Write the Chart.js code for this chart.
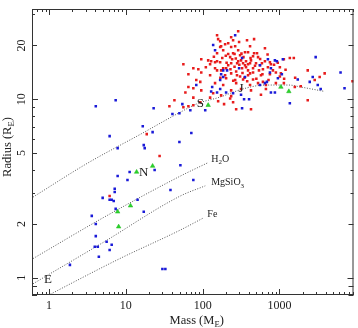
<!DOCTYPE html>
<html>
<head>
<meta charset="utf-8">
<script src="https://cdn.jsdelivr.net/npm/chart.js@4.4.1/dist/chart.umd.min.js"></script>
<style>
  html, body { margin: 0; padding: 0; background: #fff; }
  canvas { display: block; }
</style>
</head>
<body>
<canvas id="mr" width="358" height="328"></canvas>
<script>
// tick labels
const xTickLabels = [1, 10, 100, 1000];
const yTickLabels = [1, 2, 5, 10, 20];

// transiting planets (mass, radius in Earth units)
const redMass = [
  6.15, 42.9, 36.9, 18.7, 27.5, 56.1, 290, 154, 235, 169,
  298, 215, 174, 196, 235, 265, 647, 154, 185, 290,
  356, 467, 307, 215, 526, 95.9, 129, 154, 169, 242,
  290, 316, 367, 426, 495, 647, 751, 1141, 1537, 125,
  215, 235, 356, 390, 557, 774, 87.8, 95.9, 145, 174,
  202, 235, 273, 326, 390, 453, 609, 898, 1043, 2333,
  3874, 65.2, 125, 196, 307, 390, 574, 751, 1012, 82.6,
  93.1, 202, 265, 336, 453, 609, 898, 1141, 2876, 3337,
  8930, 145, 185, 273, 414, 526, 666, 65.2, 75.6, 95.9,
  235, 316, 426, 666, 1584, 59.6, 137, 174, 235, 56.1,
  65.2, 75.6, 273, 426, 2333, 1892, 75.6, 93.1, 125, 159,
  190, 228, 249, 574, 378, 414, 467, 390, 510, 453,
  414, 367, 453, 591, 541, 414, 707, 822, 1012, 1364,
  336, 159, 249, 169, 249, 228, 118, 75.6, 145, 185,
  154, 281, 180, 200, 260, 320, 270, 340, 205, 260,
  300, 330, 480, 230, 280, 350, 500, 170, 250, 380,
  600, 720, 420, 560, 850, 1200, 1600, 1150, 700, 950, 140, 110
];
const redRadius = [
  2.87, 9.87, 9.13, 6.37, 4.80, 15.7, 24.0, 22.8, 22.2, 21.1,
  20.9, 20.6, 19.8, 20.3, 19.6, 19.8, 19.3, 18.1, 18.8, 18.8,
  18.3, 18.1, 17.6, 17.9, 17.2, 16.75, 16.3, 16.3, 16.1, 16.75,
  16.3, 16.5, 16.3, 16.5, 15.9, 16.3, 16.1, 16.75, 17.0, 15.7,
  15.5, 15.9, 15.5, 15.7, 15.5, 15.7, 14.7, 14.1, 14.9, 14.5,
  14.9, 13.95, 14.3, 14.9, 14.5, 14.1, 14.7, 14.1, 13.95, 14.5,
  13.95, 13.8, 13.6, 13.6, 13.4, 13.6, 13.6, 13.8, 13.4, 12.8,
  12.5, 13.1, 12.8, 12.9, 12.9, 12.5, 12.3, 12.3, 12.8, 13.3,
  12.6, 12.3, 12.0, 12.3, 12.0, 12.3, 12.0, 11.7, 11.5, 11.2,
  11.2, 11.4, 11.2, 11.4, 11.7, 10.9, 10.8, 10.5, 10.4, 9.02,
  9.13, 9.25, 8.79, 8.79, 9.87, 11.8, 10.2, 9.62, 10.2, 9.74,
  9.38, 10.1, 9.62, 10.6, 21.4, 19.8, 21.7, 18.3, 18.1, 17.4,
  15.9, 15.1, 14.9, 15.9, 14.5, 13.95, 15.1, 14.5, 15.1, 17.0,
  15.9, 21.7, 21.4, 19.6, 18.1, 17.2, 16.5, 14.9, 16.1, 14.9,
  14.5, 15.9, 17.0, 17.5, 17.9, 18.0, 16.9, 17.2, 16.0, 15.2,
  15.6, 14.0, 15.4, 14.7, 13.6, 13.2, 13.0, 13.2, 12.7, 12.6,
  13.8, 12.8, 17.0, 16.8, 15.6, 14.6, 13.2, 13.0, 17.8, 16.0, 17.3, 15.1
];

const blueMass = [
  1.87, 3.6, 4.06, 4.06, 3.94, 4.31, 4.45, 5.62, 6.15, 6.54,
  4.99, 6.15, 6.54, 6.95, 7.16, 7.16, 7.37, 7.82, 11.2, 10.5,
  14.2, 17.1, 23.7, 38.1, 29.9, 32.7, 51.3, 4.06, 7.37, 6.15,
  7.82, 16.6, 22.3, 23.0, 17.1, 17.6, 40.4, 49.8, 54.4, 49.8,
  75.6, 265, 137, 145, 2960, 925, 185, 774, 6240, 174,
  169, 356, 686, 954, 1730, 2710, 3150, 133, 129, 154,
  202, 316, 774, 872, 7030, 69.1, 108, 326, 1364, 71.2,
  2477, 3440, 1074, 647, 557, 346, 402, 82.6, 169, 185,
  249, 326, 707, 872, 1107, 557, 751, 208, 298
];
const blueRadius = [
  1.18, 2.22, 2.0, 1.71, 1.49, 1.49, 1.31, 1.59, 1.43, 1.53,
  2.80, 2.73, 2.73, 2.69, 3.15, 3.02, 2.43, 3.71, 3.91, 3.53,
  2.73, 2.34, 4.01, 3.10, 1.12, 1.12, 4.27, 9.13, 9.87, 6.21,
  5.32, 7.06, 6.54, 8.90, 5.53, 5.32, 8.25, 8.35, 9.38, 5.75,
  3.53, 22.8, 20.1, 18.8, 17.2, 16.3, 14.5, 14.9, 14.1, 13.8,
  12.8, 13.3, 12.5, 13.1, 12.9, 13.3, 12.0, 11.7, 11.05, 10.9,
  10.9, 10.6, 10.9, 10.9, 11.5, 8.68, 8.68, 8.90, 9.49, 6.46,
  12.5, 11.4, 13.8, 12.3, 12.0, 9.98, 9.98, 12.0, 11.4, 13.3,
  10.8, 17.0, 16.75, 16.5, 16.75, 15.5, 14.1, 14.5, 14.9
];

const greenMass = [13.8, 11.5, 7.82, 8.06, 22.3, 118, 1043, 1324];
const greenRadius = [3.91, 2.53, 2.34, 1.93, 4.22, 9.25, 11.7, 11.05];

// model curves
const hheMass = [0.62, 3.2, 15.6, 51.3, 87.8, 159, 356, 647, 1324, 1892, 3874];
const hheRadius = [2.83, 4.39, 6.37, 8.46, 9.49, 10.2, 11.5, 12.0, 12.0, 11.7, 11.05];
const waterMass = [0.62, 4.99, 51.3, 115];
const waterRadius = [1.28, 2.16, 3.71, 4.39];
const rockMass = [0.62, 4.99, 51.3, 108];
const rockRadius = [0.925, 1.57, 2.87, 3.27];
const ironMass = [0.79, 8.06, 51.3, 102];
const ironRadius = [0.76, 1.27, 1.85, 2.16];

// planet letters and curve names
const planetNames = ["S", "J", "N", "E"];
const planetMass = [93.1, 316, 17.1, 0.97];
const planetRadius = [9.49, 11.5, 3.89, 0.974];
const curveNames = [[["H"], ["2", 1], ["O"]], [["MgSiO"], ["3", 1]], [["Fe"]]];
const curveNameMass = [129, 129, 115];
const curveNameRadius = [4.62, 3.40, 2.25];

const pts = (xs, ys) => xs.map((x, i) => ({ x: x, y: ys[i] }));
const SERIF = "'Liberation Serif', 'Times New Roman', serif";

const curve = (xs, ys) => ({
  data: pts(xs, ys),
  showLine: true,
  pointRadius: 0,
  borderColor: "#555",
  borderWidth: 1,
  borderDash: [1, 1.6],
  cubicInterpolationMode: "monotone",
  fill: false,
  order: 4
});

// text with subscripts: parts = [[text, isSub], ...]
function richText(ctx, parts, x, y, size, align){
  const w = parts.reduce((s, p) => {
    ctx.font = (p[1] ? size * 0.7 : size) + "px " + SERIF;
    return s + ctx.measureText(p[0]).width;
  }, 0);
  let cx = align === "left" ? x : x - w / 2;
  ctx.textAlign = "left";
  ctx.textBaseline = "middle";
  parts.forEach(p => {
    ctx.font = (p[1] ? size * 0.7 : size) + "px " + SERIF;
    ctx.fillText(p[0], cx, p[1] ? y + size * 0.32 : y);
    cx += ctx.measureText(p[0]).width;
  });
}

const decor = {
  id: "decor",
  beforeDraw(c){
    const ctx = c.ctx;
    ctx.save();
    ctx.fillStyle = "#fff";
    ctx.fillRect(0, 0, c.width, c.height);
    ctx.restore();
  },
  afterDraw(c){
    const ctx = c.ctx, a = c.chartArea, sx = c.scales.x, sy = c.scales.y;
    ctx.save();
    ctx.strokeStyle = "#333";
    ctx.lineWidth = 1;
    ctx.strokeRect(a.left + 0.5, a.top + 0.5, a.right - a.left - 1, a.bottom - a.top - 1);

    ctx.beginPath();
    // x ticks, bottom and top, pointing inward
    for (let d = 0.1; d <= 10000; d *= 10) {
      for (let k = 1; k < 10; k++) {
        const v = d * k;
        if (v < sx.min || v > sx.max) continue;
        const px = Math.round(sx.getPixelForValue(v)) + 0.5;
        const len = k === 1 ? 6 : 3;
        ctx.moveTo(px, a.bottom); ctx.lineTo(px, a.bottom - len);
        ctx.moveTo(px, a.top); ctx.lineTo(px, a.top + len);
      }
    }
    // y ticks, left and right
    for (let d = 0.1; d <= 100; d *= 10) {
      for (let k = 1; k < 10; k++) {
        const v = d * k;
        if (v < sy.min || v > sy.max) continue;
        const py = Math.round(sy.getPixelForValue(v)) + 0.5;
        const len = k === 1 ? 6 : (yTickLabels.includes(Math.round(v)) ? 5 : 3);
        ctx.moveTo(a.left, py); ctx.lineTo(a.left + len, py);
        ctx.moveTo(a.right, py); ctx.lineTo(a.right - len, py);
      }
    }
    ctx.stroke();

    ctx.fillStyle = "#222";
    // y tick labels, rotated
    ctx.font = "12px " + SERIF;
    yTickLabels.forEach(v => {
      ctx.save();
      ctx.translate(a.left - 10, sy.getPixelForValue(v));
      ctx.rotate(-Math.PI / 2);
      ctx.textAlign = "center";
      ctx.textBaseline = "middle";
      ctx.fillText(String(v), 0, 0);
      ctx.restore();
    });

    // axis titles
    richText(ctx, [["Mass (M"], ["E", 1], [")"]], (a.left + a.right) / 2 + 4, c.height - 7, 12.5, "center");
    ctx.save();
    ctx.translate(8, (a.top + a.bottom) / 2 - 5);
    ctx.rotate(-Math.PI / 2);
    richText(ctx, [["Radius (R"], ["E", 1], [")"]], 0, 0, 12.5, "center");
    ctx.restore();

    // planet letters
    ctx.font = "13px " + SERIF;
    ctx.textAlign = "center";
    ctx.textBaseline = "middle";
    planetNames.forEach((t, i) => {
      ctx.fillText(t, sx.getPixelForValue(planetMass[i]), sy.getPixelForValue(planetRadius[i]));
    });
    // curve names
    curveNames.forEach((parts, i) => {
      richText(ctx, parts, sx.getPixelForValue(curveNameMass[i]), sy.getPixelForValue(curveNameRadius[i]), 10, "left");
    });
    ctx.restore();
  }
};

new Chart(document.getElementById("mr"), {
  type: "scatter",
  data: {
    datasets: [
      { data: pts(greenMass, greenRadius), pointStyle: "triangle", pointRadius: 2.6, backgroundColor: "#2bd42b", borderColor: "#1fb81f", borderWidth: 0.5, order: 1 },
      { data: pts(blueMass, blueRadius), pointStyle: "rect", pointRadius: 1.8, backgroundColor: "#1a1ad8", borderColor: "#1a1ad8", borderWidth: 0, order: 2 },
      { data: pts(redMass, redRadius), pointStyle: "rect", pointRadius: 1.8, backgroundColor: "#e81c1c", borderColor: "#e81c1c", borderWidth: 0, order: 3 },
      curve(hheMass, hheRadius),
      curve(waterMass, waterRadius),
      curve(rockMass, rockRadius),
      curve(ironMass, ironRadius)
    ]
  },
  options: {
    responsive: false,
    animation: false,
    events: [],
    layout: { padding: { top: 9, right: 4, left: 0, bottom: 0 } },
    plugins: { legend: { display: false }, tooltip: { enabled: false } },
    scales: {
      x: {
        type: "logarithmic",
        min: 0.62,
        max: 9200,
        grid: { display: false },
        border: { display: false },
        ticks: {
          autoSkip: false,
          maxRotation: 0,
          padding: -4,
          color: "#222",
          font: { family: SERIF, size: 12 },
          callback: v => String(v)
        },
        afterBuildTicks: s => { s.ticks = xTickLabels.map(v => ({ value: v })); },
        afterFit: s => { s.height = 33; }
      },
      y: {
        type: "logarithmic",
        min: 0.8,
        max: 32,
        grid: { display: false },
        border: { display: false },
        ticks: { display: false },
        afterFit: s => { s.width = 32; }
      }
    }
  },
  plugins: [decor]
});
</script>
</body>
</html>
